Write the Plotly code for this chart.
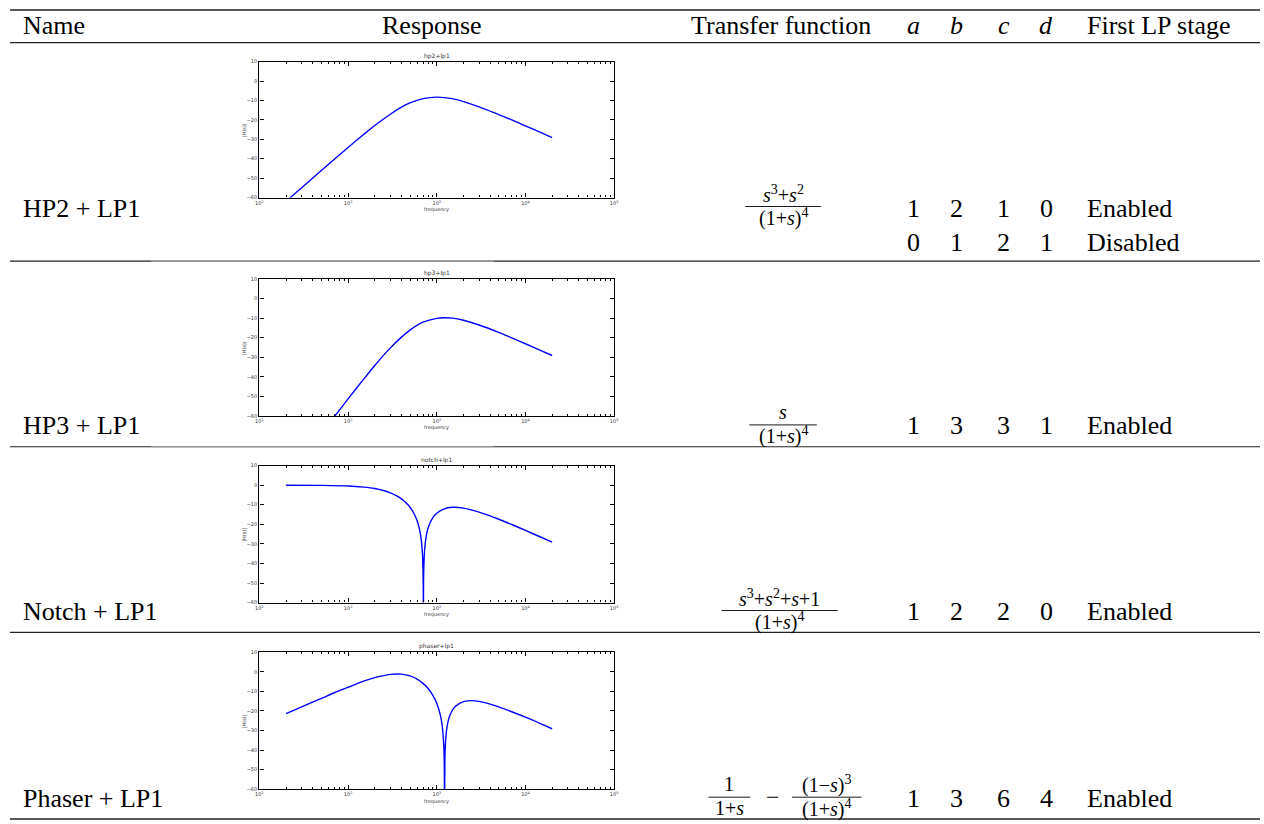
import plotly.graph_objects as go

W, H = 1264, 824

# ---------------- data ----------------
names = ["HP2 + LP1", "HP3 + LP1", "Notch + LP1", "Phaser + LP1"]
plot_titles = ["hp2+lp1", "hp3+lp1", "notch+lp1", "phaser+lp1"]

coef_rows = [
    ["1", "2", "1", "0", "Enabled"],
    ["0", "1", "2", "1", "Disabled"],
    ["1", "3", "3", "1", "Enabled"],
    ["1", "2", "2", "0", "Enabled"],
    ["1", "3", "6", "4", "Enabled"],
]

freq_hp2 = [20, 30, 50, 70, 100, 150, 200, 300, 400, 500, 700, 1000, 1500, 2000,
            3000, 5000, 7000, 10000, 15000, 20000]
db_hp2 = [-61.9, -54.9, -46.1, -40.3, -34.2, -27.5, -22.9, -17.1, -13.5, -11.3, -9.1,
          -8.3, -9.1, -10.6, -13.3, -17.3, -20.0, -23.1, -26.6, -29.1]

freq_hp3 = [20, 30, 50, 70, 100, 150, 200, 300, 400, 500, 700, 1000, 1200, 1500, 2000,
            3000, 5000, 7000, 10000, 15000, 20000]
db_hp3 = [-92.9, -82.3, -69.1, -60.4, -51.3, -41.2, -34.2, -25.2, -19.7, -16.1, -12.1,
          -10.1, -9.8, -10.0, -11.1, -13.5, -17.3, -20.1, -23.1, -26.6, -29.1]

freq_notch = [20, 50, 100, 150, 200, 250, 300, 350, 400, 450, 500, 550, 600, 640, 670,
              690, 700, 705, 707, 709, 715, 730, 760, 800, 900, 1000, 1200, 1500, 2000,
              3000, 5000, 7000, 10000, 15000, 20000]
db_notch = [0.0, -0.1, -0.4, -1.0, -1.7, -2.7, -3.9, -5.3, -7.0, -9.0, -11.3, -14.2,
            -18.1, -22.7, -28.2, -35.1, -42.9, -53.5, -90.0, -54.0, -42.0, -33.1, -26.2,
            -21.8, -16.7, -14.3, -12.2, -11.3, -11.7, -13.8, -17.4, -20.1, -23.1, -26.6,
            -29.1]

freq_phaser = [20, 30, 50, 70, 100, 150, 200, 300, 400, 500, 600, 700, 800, 900, 1000,
               1100, 1150, 1200, 1215, 1225, 1235, 1250, 1300, 1400, 1600, 2000, 2500,
               3000, 4000, 5000, 7000, 10000, 15000, 20000]
db_phaser = [-21.4, -17.9, -13.6, -10.7, -7.9, -4.8, -3.0, -1.3, -1.2, -2.1, -3.7, -5.9,
             -8.5, -11.9, -16.1, -22.3, -27.3, -37.5, -45.8, -75.0, -45.2, -37.7, -28.8,
             -22.5, -17.9, -15.2, -14.7, -15.1, -16.5, -17.9, -20.4, -23.2, -26.6, -29.1]

curves = [(freq_hp2, db_hp2), (freq_hp3, db_hp3),
          (freq_notch, db_notch), (freq_phaser, db_phaser)]

ytick_vals = [10, 0, -10, -20, -30, -40, -50, -60]
ytick_text = ["10", "0", "\u221210", "\u221220", "\u221230", "\u221240", "\u221250", "\u221260"]
xtick_vals = [10, 100, 1000, 10000, 100000]
xtick_text = ["10<sup>1</sup>", "10<sup>2</sup>", "10<sup>3</sup>", "10<sup>4</sup>", "10<sup>5</sup>"]
xminor_vals = [m * 10 ** k for k in range(1, 5) for m in range(2, 10)]

# ---------------- layout geometry (pixels) ----------------
box_x0, box_x1 = 257, 614
box_tops = [59, 278, 466, 654]
box_bots = [196, 416, 604, 792]


def px(x):
    return x / W


def py(y):
    return 1 - y / H


fig = go.Figure()
layout = dict(
    width=W, height=H,
    margin=dict(l=0, r=0, t=0, b=0),
    paper_bgcolor="white", plot_bgcolor="white",
    showlegend=False,
)
annotations = []
shapes = []

SANS = "DejaVu Sans"
SERIF = "Liberation Serif"

for i, (fr, db) in enumerate(curves):
    sfx = "" if i == 0 else str(i + 1)
    fig.add_trace(go.Scatter(x=fr, y=db, mode="lines",
                             line=dict(color="#0000ff", width=1.4, shape="spline",
                                       smoothing=0.8),
                             xaxis="x" + sfx, yaxis="y" + sfx, hoverinfo="skip"))
    layout["xaxis" + sfx] = dict(
        type="log", range=[1, 5], domain=[px(box_x0), px(box_x1)],
        anchor="y" + sfx, showgrid=False, zeroline=False,
        showline=True, linecolor="black", linewidth=1.3, mirror="allticks",
        ticks="inside", ticklen=4, tickwidth=0.8, tickcolor="black",
        tickmode="array", tickvals=xtick_vals, ticktext=xtick_text,
        tickfont=dict(family=SANS, size=5, color="#333"),
        minor=dict(ticks="inside", ticklen=2, tickwidth=0.6, tickcolor="black",
                   tickmode="array", tickvals=xminor_vals, showgrid=False),
        fixedrange=True,
    )
    layout["yaxis" + sfx] = dict(
        range=[-60, 10], domain=[py(box_bots[i]), py(box_tops[i])],
        anchor="x" + sfx, showgrid=False, zeroline=False,
        showline=True, linecolor="black", linewidth=1.3, mirror="allticks",
        ticks="inside", ticklen=4, tickwidth=0.8, tickcolor="black",
        tickmode="array", tickvals=ytick_vals, ticktext=ytick_text,
        tickfont=dict(family=SANS, size=5, color="#333"),
        fixedrange=True,
    )
    xc = (box_x0 + box_x1) / 2
    annotations.append(dict(x=px(xc), y=py(box_tops[i] - 6), xref="paper", yref="paper",
                            text=plot_titles[i], showarrow=False, xanchor="center",
                            yanchor="middle", font=dict(family=SANS, size=6, color="#333")))
    annotations.append(dict(x=px(xc), y=py(box_bots[i] + 12), xref="paper", yref="paper",
                            text="frequency", showarrow=False, xanchor="center",
                            yanchor="middle", font=dict(family=SANS, size=5, color="#333")))
    annotations.append(dict(x=px(242), y=py((box_tops[i] + box_bots[i]) / 2),
                            xref="paper", yref="paper", text="|H(s)|", textangle=-90,
                            showarrow=False, xanchor="center", yanchor="middle",
                            font=dict(family=SANS, size=5, color="#333")))


def txt(x, y, s, size=26, anchor="left", family=SERIF):
    annotations.append(dict(x=px(x), y=py(y), xref="paper", yref="paper", text=s,
                            showarrow=False, xanchor=anchor, yanchor="middle",
                            font=dict(family=family, size=size, color="black")))


def hline(y, x0=6, x1=W, width=1.0, color="#222"):
    shapes.append(dict(type="line", xref="paper", yref="paper", x0=px(x0), x1=px(x1),
                       y0=py(y), y1=py(y), line=dict(color=color, width=width)))


def frac(xc, ybar, num, den, x0, x1, size=20):
    txt(xc, ybar - 13, num, size=size, anchor="center")
    txt(xc, ybar + 11, den, size=size, anchor="center")
    hline(ybar, x0, x1, width=0.9, color="black")


# table rules
hline(7, width=1.6)
hline(40, width=1.2)
for yy in (260, 447):
    hline(yy, width=1.2)
    hline(yy, 148, 493, width=1.2, color="#aaa")
hline(634, width=1.2)
hline(822, width=1.6)

# header
hy = 23
txt(17, hy, "Name")
txt(431, hy, "Response", anchor="center")
txt(689, hy, "Transfer function")
col_x = [915, 959, 1006, 1049]
for cx, lab in zip(col_x, ["a", "b", "c", "d"]):
    txt(cx, hy, "<i>" + lab + "</i>", anchor="center")
txt(1088, hy, "First LP stage")

# rows
row_y = [207, 241, 426, 613, 801]
name_y = [207, 426, 613, 801]
for n, yy in zip(names, name_y):
    txt(17, yy, n)
for r, yy in zip(coef_rows, row_y):
    for cx, v in zip(col_x, r[:4]):
        txt(cx, yy, v, anchor="center")
    txt(1088, yy, r[4])

S = "<i>s</i>"
den4 = "(1+" + S + ")<sup>4</sup>"
frac(784, 205, S + "<sup>3</sup>+" + S + "<sup>2</sup>", den4, 746, 822)
frac(784, 425, S, den4, 750, 818)
frac(780, 612, S + "<sup>3</sup>+" + S + "<sup>2</sup>+" + S + "+1", den4, 722, 839)
frac(730, 800, "1", "1+" + S, 709, 751)
txt(774, 800, "\u2212", size=24, anchor="center")
frac(828, 800, "(1\u2212" + S + ")<sup>3</sup>", den4, 793, 863)

layout["annotations"] = annotations
layout["shapes"] = shapes
fig.update_layout(**layout)
fig.write_html("out.html", config={"displayModeBar": False},
               post_script="document.body.style.margin='0px';")
